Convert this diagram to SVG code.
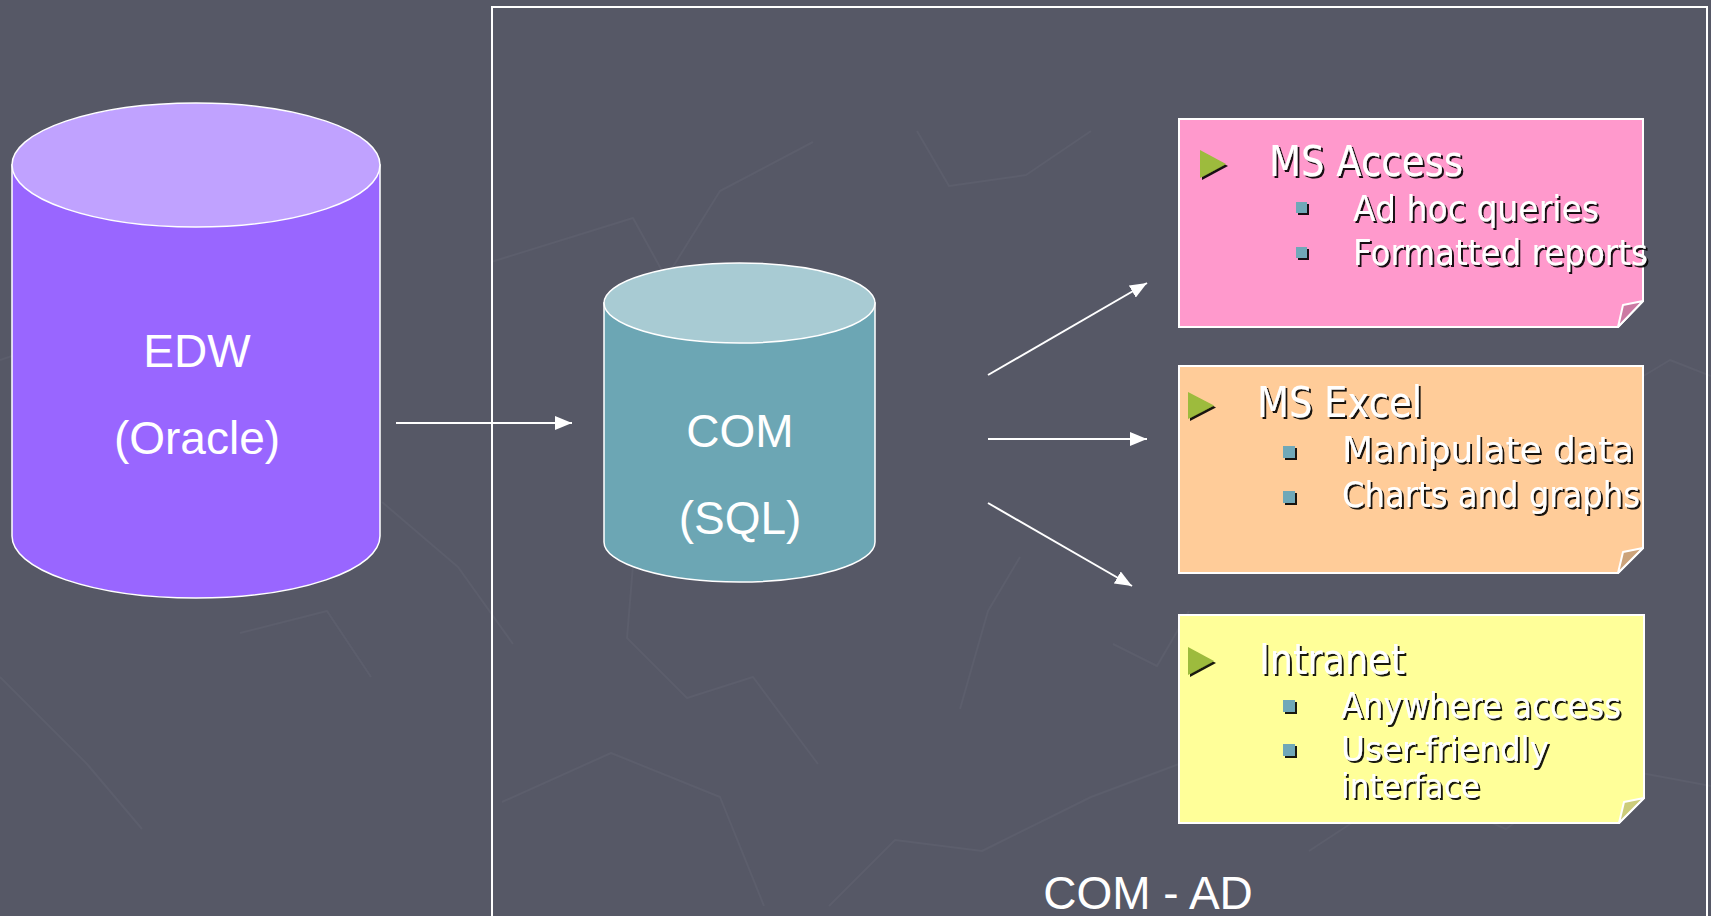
<svg xmlns="http://www.w3.org/2000/svg" width="1711" height="916" viewBox="0 0 1711 916">
<defs>
<style>
.bg{fill:#565866}
.deco{fill:none;stroke:#5c5e6c;stroke-width:2;stroke-linejoin:round}
.frame{fill:none;stroke:#ffffff;stroke-width:2}
.cyl{stroke:#ffffff;stroke-width:1.5}
.lbl{font-family:"Liberation Sans",Arial,sans-serif;font-size:46px;fill:#ffffff;text-anchor:middle}
.conn{stroke:#ffffff;stroke-width:2;fill:none}
.note{stroke:#ffffff;stroke-width:2}
.fold{stroke:#ffffff;stroke-width:2;stroke-linejoin:round}
.h{font-family:"DejaVu Sans",Tahoma,Verdana,sans-serif;font-size:42px;fill:#ffffff}
.s{font-family:"DejaVu Sans",Tahoma,Verdana,sans-serif;font-size:35px;fill:#ffffff}
.s2{font-family:"DejaVu Sans",Tahoma,Verdana,sans-serif;font-size:34px;fill:#ffffff}
.tri{fill:#9dbb3d}
.sq{fill:#6fa8b8}
</style>
<filter id="sh" x="-10%" y="-20%" width="130%" height="150%">
<feDropShadow dx="2" dy="2" stdDeviation="0.7" flood-color="#000000" flood-opacity="0.9"/>
</filter>
<marker id="ah" markerWidth="17" markerHeight="14" refX="17" refY="7" orient="auto" markerUnits="userSpaceOnUse">
<path d="M0,0 L17,7 L0,14 Z" fill="#ffffff"/>
</marker>
</defs>
<rect class="bg" x="0" y="0" width="1711" height="916"/>
<g id="background-texture">
<polyline class="deco" points="491,262 633,218 666,278 720,191 813,142"/>
<polyline class="deco" points="644,431 627,638 687,698 753,677 818,764"/>
<polyline class="deco" points="502,802 611,753 720,797 764,906"/>
<polyline class="deco" points="829,906 895,840 982,851 1091,797 1179,764"/>
<polyline class="deco" points="1020,557 988,611 960,709"/>
<polyline class="deco" points="1113,644 1157,666 1189,611"/>
<polyline class="deco" points="1309,851 1408,786 1506,829 1593,764 1711,786"/>
<polyline class="deco" points="1615,393 1670,360 1711,376"/>
<polyline class="deco" points="917,131 949,186 1026,175 1091,131"/>
<polyline class="deco" points="0,360 65,338 120,360"/>
<polyline class="deco" points="382,502 458,567 513,644"/>
<polyline class="deco" points="0,677 87,764 142,829"/>
<polyline class="deco" points="240,633 327,611 371,677"/>
</g>
<g id="com-ad">
<path class="frame" d="M492,920 V7 H1707 V920"/>
<text class="lbl" x="1148" y="909">COM - AD</text>
</g>
<g id="edw">
<path class="cyl" fill="#9966ff" d="M12,165 V536 A184,62 0 0 0 380,536 V165 Z"/>
<ellipse class="cyl" fill="#c0a2ff" cx="196" cy="165" rx="184" ry="62"/>
<text class="lbl" x="197" y="367">EDW</text>
<text class="lbl" x="197" y="454">(Oracle)</text>
</g>
<g id="com">
<path class="cyl" fill="#6ca6b4" d="M604,303 V542 A135.5,40 0 0 0 875,542 V303 Z"/>
<ellipse class="cyl" fill="#a8cbd3" cx="739.5" cy="303" rx="135.5" ry="40"/>
<text class="lbl" x="740" y="447">COM</text>
<text class="lbl" x="740" y="534">(SQL)</text>
</g>
<g id="connectors">
<line class="conn" x1="396" y1="423" x2="572" y2="423" marker-end="url(#ah)"/>
<line class="conn" x1="988" y1="375" x2="1147" y2="283" marker-end="url(#ah)"/>
<line class="conn" x1="988" y1="439" x2="1147" y2="439" marker-end="url(#ah)"/>
<line class="conn" x1="988" y1="503" x2="1132" y2="586" marker-end="url(#ah)"/>
</g>
<g id="ms-access">
<path class="note" fill="#ff99cc" d="M1179,119 H1643 V301 L1618,327 H1179 Z"/>
<path class="fold" fill="#cc7aa3" d="M1643,301 L1623,305 L1618,327 Z"/>
<g filter="url(#sh)">
<polygon class="tri" points="1200,150 1226,164 1200,178"/>
<text class="h" x="1269" y="176" textLength="194" lengthAdjust="spacingAndGlyphs">MS Access</text>
<rect class="sq" x="1296" y="202" width="11" height="11"/>
<text class="s" x="1353" y="221" textLength="246" lengthAdjust="spacingAndGlyphs">Ad hoc queries</text>
<rect class="sq" x="1296" y="247" width="11" height="11"/>
<text class="s" x="1353" y="265" textLength="295" lengthAdjust="spacingAndGlyphs">Formatted reports</text>
</g>
</g>
<g id="ms-excel">
<path class="note" fill="#ffcc99" d="M1179,366 H1643 V548 L1618,573 H1179 Z"/>
<path class="fold" fill="#cca37a" d="M1643,548 L1623,552 L1618,573 Z"/>
<g filter="url(#sh)">
<polygon class="tri" points="1188,392 1214,405.5 1188,419"/>
<text class="h" x="1257" y="417" textLength="165" lengthAdjust="spacingAndGlyphs">MS Excel</text>
<rect class="sq" x="1283" y="446" width="12" height="12"/>
<text class="s" x="1342" y="462" textLength="292" lengthAdjust="spacingAndGlyphs">Manipulate data</text>
<rect class="sq" x="1283" y="491" width="12" height="12"/>
<text class="s" x="1342" y="507" textLength="298" lengthAdjust="spacingAndGlyphs">Charts and graphs</text>
</g>
</g>
<g id="intranet">
<path class="note" fill="#ffff99" d="M1179,615 H1644 V798 L1619,823 H1179 Z"/>
<path class="fold" fill="#cccc7a" d="M1644,798 L1624,802 L1619,823 Z"/>
<g filter="url(#sh)">
<polygon class="tri" points="1188,647 1214,661 1188,675"/>
<text class="h" x="1259" y="674" textLength="146" lengthAdjust="spacingAndGlyphs">Intranet</text>
<rect class="sq" x="1283" y="700" width="12" height="12"/>
<text class="s" x="1341" y="718" textLength="280" lengthAdjust="spacingAndGlyphs">Anywhere access</text>
<rect class="sq" x="1283" y="744" width="12" height="12"/>
<text class="s2" x="1341" y="761" textLength="208" lengthAdjust="spacingAndGlyphs">User-friendly</text>
<text class="s2" x="1341" y="798" textLength="139" lengthAdjust="spacingAndGlyphs">interface</text>
</g>
</g>
</svg>
